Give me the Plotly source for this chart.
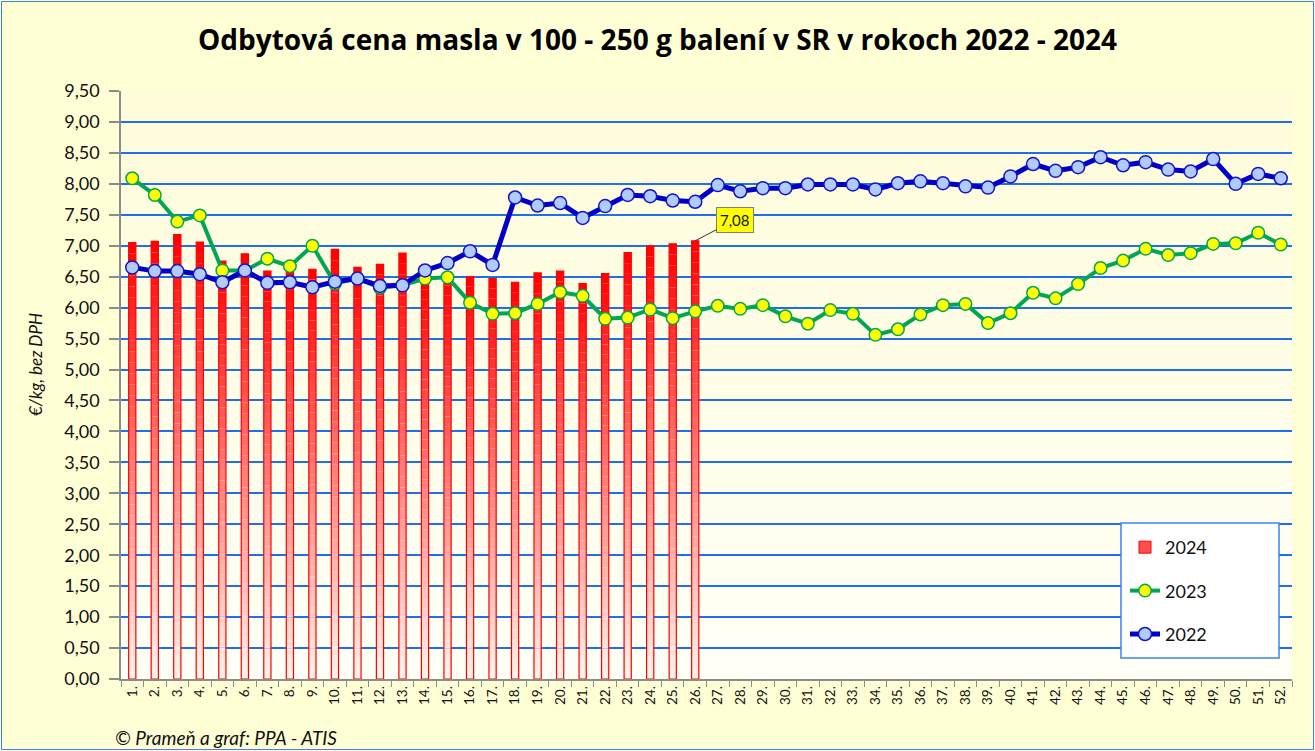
import base64
import struct
import zlib
import plotly.graph_objects as go

# ---------------- data ----------------
WEEKS = list(range(1, 53))
WEEK_LABELS = [f"{w}." for w in WEEKS]

PRICE_2024 = [7.05, 7.07, 7.18, 7.06, 6.75, 6.87, 6.59, 6.62, 6.62, 6.94,
              6.65, 6.70, 6.88, 6.45, 6.52, 6.50, 6.47, 6.41, 6.56, 6.59,
              6.39, 6.55, 6.89, 7.00, 7.03, 7.08]
PRICE_2023 = [8.09, 7.82, 7.39, 7.49, 6.60, 6.60, 6.79, 6.67, 7.00, 6.39,
              6.47, 6.32, 6.36, 6.47, 6.49, 6.08, 5.90, 5.91, 6.06, 6.25,
              6.19, 5.82, 5.84, 5.97, 5.83, 5.94, 6.03, 5.98, 6.04, 5.86,
              5.74, 5.96, 5.90, 5.56, 5.65, 5.89, 6.04, 6.06, 5.75, 5.91,
              6.24, 6.15, 6.38, 6.64, 6.76, 6.95, 6.85, 6.88, 7.03, 7.04,
              7.21, 7.02]
PRICE_2022 = [6.65, 6.59, 6.59, 6.54, 6.41, 6.60, 6.40, 6.41, 6.33, 6.42,
              6.47, 6.35, 6.36, 6.60, 6.72, 6.91, 6.69, 7.78, 7.65, 7.69,
              7.45, 7.64, 7.82, 7.80, 7.73, 7.71, 7.98, 7.88, 7.93, 7.93,
              7.99, 7.99, 7.99, 7.91, 8.01, 8.04, 8.01, 7.96, 7.94, 8.12,
              8.32, 8.21, 8.27, 8.43, 8.30, 8.35, 8.23, 8.20, 8.40, 8.00,
              8.16, 8.09]

TITLE = "Odbytová cena masla v 100 - 250 g balení v SR v rokoch 2022 - 2024"
Y_TITLE = "€/kg, bez DPH"
SOURCE = "© Prameň a graf: PPA - ATIS"

FONT = "Lato"
W, H = 1315, 751
ML, MR, MT, MB = 121, 23, 91, 72
PW, PH = W - ML - MR, H - MT - MB


def px_x(px):
    return (px - ML) / PW


def px_y(py):
    return (H - MB - py) / PH


def gradient_png(top, bottom, h=128):
    rows = b""
    for i in range(h):
        t = i / (h - 1)
        c = [round(top[j] + (bottom[j] - top[j]) * t) for j in range(3)]
        rows += b"\x00" + bytes(c)

    def chunk(tag, data):
        out = struct.pack(">I", len(data)) + tag + data
        return out + struct.pack(">I", zlib.crc32(tag + data) & 0xFFFFFFFF)

    png = (b"\x89PNG\r\n\x1a\n"
           + chunk(b"IHDR", struct.pack(">IIBBBBB", 1, h, 8, 2, 0, 0, 0))
           + chunk(b"IDAT", zlib.compress(rows))
           + chunk(b"IEND", b""))
    return "data:image/png;base64," + base64.b64encode(png).decode()


fig = go.Figure()

# ---- 2024 bars with vertical gradient (stacked overlay slices) ----
N = 40
bar_w = 0.32
x24 = WEEKS[:len(PRICE_2024)]
bottom_c = (255, 246, 236)
top_c = (255, 0, 0)
for k in range(N):
    f = (k + 0.5) / N
    col = "rgb(%d,%d,%d)" % tuple(round(bottom_c[j] + (top_c[j] - bottom_c[j]) * f) for j in range(3))
    fig.add_trace(go.Bar(
        x=x24, y=[v / N for v in PRICE_2024], base=[v * k / N for v in PRICE_2024],
        width=bar_w, marker=dict(color=col, line=dict(width=0)),
        name="2024", legendgroup="g2024", showlegend=False, hoverinfo="skip"))
# outline
fig.add_trace(go.Bar(
    x=x24, y=PRICE_2024, width=bar_w,
    marker=dict(color="rgba(255,0,0,0)", line=dict(color="#FF0000", width=1.2)),
    name="2024", legendgroup="g2024", showlegend=False))
# legend entry for 2024 (no data)
fig.add_trace(go.Bar(
    x=[None], y=[None], width=bar_w,
    marker=dict(color="#FF5050", line=dict(color="#FF0000", width=1)),
    name="2024", legendgroup="g2024", showlegend=True))

# ---- 2023 line ----
fig.add_trace(go.Scatter(
    x=WEEKS, y=PRICE_2023, mode="lines+markers", name="2023", legendgroup="g2023",
    line=dict(color="#00A651", width=4),
    marker=dict(size=12.5, color="#FFFF00", line=dict(color="#00A651", width=1.5))))

# ---- 2022 line ----
fig.add_trace(go.Scatter(
    x=WEEKS, y=PRICE_2022, mode="lines+markers", name="2022", legendgroup="g2022",
    line=dict(color="#0000C8", width=5),
    marker=dict(size=13, color="#AFCBFF", line=dict(color="#1414C8", width=1.5))))

last_val = PRICE_2024[-1]
annotations = [
    dict(x=x24[-1], y=last_val, xref="x", yref="y",
         text=f"{last_val:.2f}".replace(".", ","), showarrow=True, arrowhead=0,
         arrowwidth=1, arrowcolor="#333333", ax=40, ay=-21,
         bgcolor="#FFFF00", bordercolor="#7F7F7F", borderwidth=1, borderpad=3,
         font=dict(family=FONT, size=15, color="#111111")),
    dict(x=px_x(35), y=px_y(365), xref="paper", yref="paper", text=Y_TITLE,
         textangle=-90, showarrow=False, xanchor="center", yanchor="middle",
         font=dict(family=FONT, size=17, color="#111111", style="italic")),
    dict(x=px_x(113), y=px_y(737), xref="paper", yref="paper", text=SOURCE,
         showarrow=False, xanchor="left", yanchor="middle",
         font=dict(family=FONT, size=19, color="#111111", style="italic")),
]

shapes = [
    # outer border
    dict(type="rect", xref="paper", yref="paper",
         x0=px_x(1.5), x1=px_x(1313.5), y0=px_y(749.5), y1=px_y(1.5),
         line=dict(color="#3C82F0", width=1), fillcolor="rgba(0,0,0,0)", layer="below"),
    # legend box
    dict(type="rect", xref="paper", yref="paper",
         x0=px_x(1121), x1=px_x(1279), y0=px_y(658), y1=px_y(523),
         line=dict(color="#3C82F0", width=1.5), fillcolor="#FFFFFF", layer="above"),
]

fig.update_layout(
    width=W, height=H,
    margin=dict(l=ML, r=MR, t=MT, b=MB),
    paper_bgcolor="#FFFFD6",
    plot_bgcolor="rgba(0,0,0,0)",
    barmode="overlay",
    separators=", ",
    font=dict(family=FONT, color="#111111"),
    title=dict(text="<b>" + TITLE + "</b>", x=0.5, xref="container", xanchor="center",
               y=1 - 40 / H, yref="container", yanchor="middle",
               font=dict(family="Open Sans", size=28, color="#000000")),
    images=[dict(source=gradient_png((255, 252, 218), (255, 255, 246)),
                 xref="paper", yref="paper", x=0, y=1, sizex=1, sizey=1,
                 xanchor="left", yanchor="top", sizing="stretch", layer="below")],
    legend=dict(x=px_x(1125), y=px_y(529), xanchor="left", yanchor="top",
                bgcolor="rgba(0,0,0,0)", borderwidth=0,
                font=dict(family=FONT, size=18, color="#111111"),
                traceorder="grouped", tracegroupgap=17, itemwidth=30),
    annotations=annotations,
    shapes=shapes,
    showlegend=True,
)

fig.update_xaxes(
    range=[0.5, 52.5], tickmode="array", tickvals=WEEKS, ticktext=WEEK_LABELS,
    tickangle=-90, ticks="", showgrid=False, zeroline=False,
    showline=True, linecolor="#8C8C8C", linewidth=1.5,
    tickfont=dict(family=FONT, size=13.5, color="#111111"),
    minor=dict(tickmode="linear", tick0=0.5, dtick=1, ticks="outside", ticklen=6,
               tickcolor="#8C8C8C", tickwidth=1, showgrid=False),
)
fig.update_yaxes(
    range=[0, 9.5], dtick=0.5, tick0=0, tickformat=".2f",
    showgrid=True, gridcolor="#1E6FF0", gridwidth=1.5, zeroline=False,
    showline=True, linecolor="#8C8C8C", linewidth=1.5,
    ticks="outside", ticklen=10, tickcolor="#8C8C8C", tickwidth=1.5,
    ticklabelstandoff=6,
    tickfont=dict(family=FONT, size=18, color="#111111"),
)

fig.write_html("out.html", config={"displayModeBar": False},
               post_script="document.body.style.margin='0';document.body.style.overflow='hidden';")
